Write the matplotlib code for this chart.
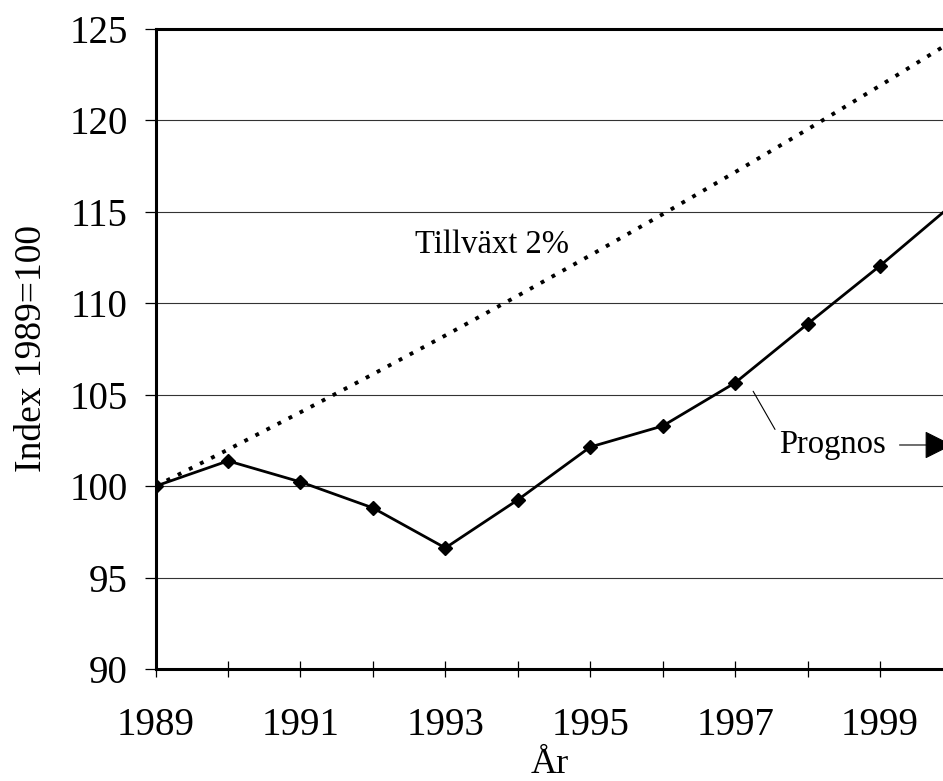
import matplotlib
matplotlib.use("Agg")
import matplotlib.pyplot as plt

plt.rcParams['font.family'] = ['Liberation Serif', 'DejaVu Serif']

years = [1989, 1990, 1991, 1992, 1993, 1994, 1995, 1996, 1997, 1998, 1999, 2000]
index = [100, 101.38, 100.23, 98.81, 96.62, 99.25, 102.14, 103.29, 105.65, 108.87, 112.05, 115.4]
growth = [100, 102.0, 104.04, 106.12, 108.24, 110.41, 112.62, 114.87, 117.17, 119.51, 121.9, 124.34]

xticks = [1989, 1990, 1991, 1992, 1993, 1994, 1995, 1996, 1997, 1998, 1999]
xticklabels = ['1989', '', '1991', '', '1993', '', '1995', '', '1997', '', '1999']
yticks = [90, 95, 100, 105, 110, 115, 120, 125]

fig = plt.figure(figsize=(9.43, 7.81), dpi=100)
ax = fig.add_axes([0.165, 0.1434, 0.835, 0.8195])

ax.grid(axis='y', color='#333333', linewidth=0.8)
ax.set_axisbelow(True)

ax.plot(years, growth, color='black', linewidth=2.8, linestyle=(0, (1, 2.2)))
ax.plot(years, index, color='black', linewidth=2, marker='D', markersize=7)

ax.set_xlim(1989, 1999.87)
ax.set_ylim(90, 125)
ax.set_xticks(xticks)
ax.set_xticklabels(xticklabels)
ax.set_yticks(yticks)

ax.spines['right'].set_visible(False)
for s in ['left', 'bottom', 'top']:
    ax.spines[s].set_linewidth(2.2)
ax.tick_params(axis='x', direction='inout', length=11, width=0.9, labelsize=28, pad=22)
ax.tick_params(axis='y', direction='out', length=8, width=0.9, labelsize=28, pad=12)

ax.set_xlabel('År', fontsize=26, labelpad=3)
ax.set_ylabel('Index 1989=100', fontsize=27, labelpad=15)

ax.text(1993.65, 113.2, 'Tillväxt 2%', fontsize=23.5, ha='center', va='center')
ax.text(1998.35, 102.25, 'Prognos', fontsize=23.5, ha='center', va='center')
ax.annotate('', xy=(1997.23, 105.32), xytext=(1997.57, 102.97),
            arrowprops=dict(arrowstyle='-', color='black', linewidth=0.8))
ax.annotate('', xy=(2000.0, 102.25), xytext=(1999.27, 102.25),
            arrowprops=dict(arrowstyle='-|>,head_length=1.8,head_width=0.9',
                            mutation_scale=10, color='black', linewidth=0.8,
                            shrinkA=0, shrinkB=0),
            annotation_clip=False)

fig.savefig('out.png', dpi=100)
